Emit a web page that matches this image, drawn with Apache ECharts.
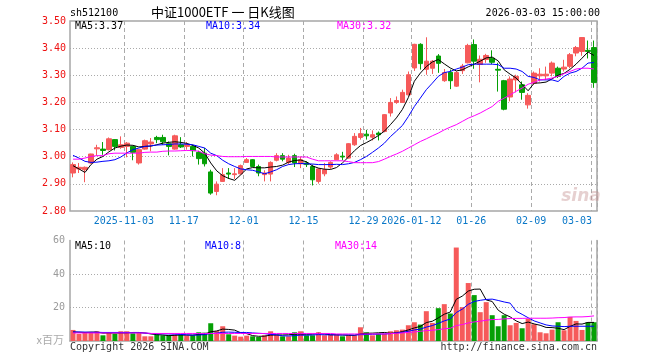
<!DOCTYPE html>
<html><head><meta charset="utf-8">
<script src="https://cdn.jsdelivr.net/npm/echarts@6/dist/echarts.min.js"></script>
<style>html,body{margin:0;padding:0;background:#fff}#c{width:660px;height:360px}</style>
</head><body><div id="c"></div>
<script>
const dates = [
'2025-10-21','2025-10-22','2025-10-23','2025-10-24','2025-10-27','2025-10-28','2025-10-29','2025-10-30','2025-10-31',
'2025-11-03','2025-11-04','2025-11-05','2025-11-06','2025-11-07','2025-11-10','2025-11-11','2025-11-12','2025-11-13','2025-11-14',
'2025-11-17','2025-11-18','2025-11-19','2025-11-20','2025-11-21','2025-11-24','2025-11-25','2025-11-26','2025-11-27','2025-11-28',
'2025-12-01','2025-12-02','2025-12-03','2025-12-04','2025-12-05','2025-12-08','2025-12-09','2025-12-10','2025-12-11','2025-12-12',
'2025-12-15','2025-12-16','2025-12-17','2025-12-18','2025-12-19','2025-12-22','2025-12-23','2025-12-24','2025-12-25','2025-12-26',
'2025-12-29','2025-12-30','2025-12-31','2026-01-05','2026-01-06','2026-01-07','2026-01-08','2026-01-09',
'2026-01-12','2026-01-13','2026-01-14','2026-01-15','2026-01-16','2026-01-19','2026-01-20','2026-01-21','2026-01-22','2026-01-23',
'2026-01-26','2026-01-27','2026-01-28','2026-01-29','2026-01-30','2026-02-02','2026-02-03','2026-02-04','2026-02-05','2026-02-06',
'2026-02-09','2026-02-10','2026-02-11','2026-02-12','2026-02-13','2026-02-24','2026-02-25','2026-02-26','2026-02-27',
'2026-03-02','2026-03-03'];

const opens = [
2.940,2.955,2.952,2.977,3.029,3.028,3.026,3.063,3.034,3.038,
3.038,2.977,3.028,3.047,3.071,3.071,3.048,3.028,3.044,3.038,
3.038,3.016,3.013,2.944,2.872,2.909,2.940,2.934,2.937,2.979,
2.989,2.964,2.934,2.936,2.987,3.004,2.979,3.004,2.974,2.977,
2.964,2.909,2.937,2.962,2.989,3.002,2.995,3.044,3.071,3.083,
3.072,3.087,3.093,3.161,3.200,3.200,3.228,3.327,3.414,3.322,
3.326,3.371,3.280,3.311,3.260,3.317,3.346,3.413,3.340,3.358,
3.363,3.322,3.280,3.220,3.283,3.265,3.191,3.271,3.298,3.298,
3.308,3.326,3.323,3.333,3.382,3.388,3.392,3.402];
const closes = [
2.971,2.961,2.961,3.010,3.033,3.023,3.066,3.038,3.044,3.050,
3.016,3.026,3.059,3.054,3.063,3.055,3.038,3.077,3.036,3.044,
3.022,2.993,2.974,2.866,2.899,2.934,2.936,2.937,2.967,2.989,
2.964,2.940,2.940,2.979,3.004,2.991,2.995,2.977,2.989,2.971,
2.915,2.955,2.952,2.979,3.007,2.999,3.048,3.075,3.085,3.077,
3.081,3.081,3.155,3.200,3.207,3.237,3.302,3.414,3.343,3.352,
3.352,3.344,3.310,3.280,3.310,3.334,3.410,3.352,3.359,3.373,
3.348,3.319,3.175,3.286,3.296,3.237,3.226,3.308,3.304,3.304,
3.345,3.296,3.330,3.376,3.402,3.439,3.388,3.273];
const lows = [
2.924,2.940,2.906,2.974,3.004,3.007,3.023,3.023,3.029,2.998,
2.987,2.971,3.026,3.020,3.050,3.044,3.005,3.026,3.032,3.026,
3.001,2.971,2.964,2.860,2.858,2.907,2.918,2.918,2.934,2.977,
2.962,2.928,2.909,2.909,2.983,2.983,2.971,2.962,2.958,2.962,
2.894,2.901,2.928,2.955,2.987,2.987,2.993,3.040,3.063,3.063,
3.060,3.060,3.090,3.148,3.195,3.198,3.226,3.316,3.321,3.302,
3.305,3.309,3.276,3.249,3.257,3.305,3.344,3.324,3.274,3.346,
3.341,3.240,3.171,3.204,3.237,3.210,3.177,3.265,3.277,3.283,
3.296,3.290,3.314,3.326,3.370,3.372,3.362,3.254];
const highs = [
2.979,2.977,2.964,3.011,3.044,3.054,3.071,3.065,3.075,3.054,
3.040,3.028,3.063,3.069,3.077,3.081,3.056,3.081,3.072,3.054,
3.044,3.022,3.032,2.952,2.909,2.958,2.958,2.958,2.971,2.995,
2.991,2.971,2.950,2.983,3.013,3.013,3.007,3.011,3.001,2.983,
2.971,2.958,2.977,2.983,3.013,3.018,3.050,3.087,3.106,3.099,
3.097,3.093,3.157,3.216,3.222,3.247,3.314,3.416,3.418,3.440,
3.356,3.378,3.323,3.321,3.315,3.342,3.416,3.432,3.373,3.379,
3.392,3.346,3.283,3.296,3.302,3.277,3.234,3.314,3.326,3.332,
3.351,3.332,3.357,3.382,3.408,3.440,3.428,3.428];

const ma5 = [
2.967,2.955,2.942,2.971,2.991,3.001,3.018,3.032,3.039,3.043,
3.042,3.036,3.038,3.039,3.044,3.050,3.053,3.055,3.053,3.049,
3.042,3.032,3.013,2.977,2.948,2.930,2.920,2.913,2.933,2.955,
2.960,2.959,2.959,2.962,2.964,2.969,2.980,2.986,2.988,2.981,
2.966,2.958,2.954,2.953,2.960,2.977,2.999,3.022,3.041,3.052,
3.064,3.078,3.094,3.118,3.143,3.174,3.218,3.278,3.308,3.332,
3.349,3.358,3.342,3.327,3.316,3.320,3.331,3.341,3.352,3.364,
3.367,3.353,3.320,3.304,3.290,3.266,3.243,3.271,3.272,3.275,
3.287,3.300,3.307,3.322,3.341,3.363,3.386,3.373];
const ma10 = [
3.005,2.995,2.983,2.979,2.980,2.983,2.985,2.989,2.999,3.014,
3.026,3.032,3.038,3.040,3.043,3.044,3.045,3.047,3.047,3.046,
3.044,3.038,3.032,3.013,3.004,2.987,2.974,2.964,2.955,2.952,
2.950,2.944,2.937,2.944,2.952,2.964,2.971,2.974,2.975,2.974,
2.973,2.971,2.971,2.971,2.972,2.971,2.974,2.979,2.989,3.001,
3.016,3.032,3.050,3.074,3.094,3.115,3.148,3.185,3.216,3.247,
3.271,3.296,3.310,3.314,3.323,3.330,3.339,3.341,3.341,3.341,
3.341,3.339,3.326,3.326,3.323,3.314,3.296,3.292,3.283,3.283,
3.283,3.277,3.296,3.308,3.314,3.326,3.345,3.347];
const ma30 = [
2.991,2.991,2.995,3.001,3.004,3.004,3.011,3.013,3.013,3.013,
3.013,3.013,3.016,3.017,3.017,3.020,3.021,3.021,3.022,3.023,
3.023,3.020,3.011,3.006,3.004,3.001,3.000,3.000,3.000,3.001,
3.001,3.001,3.001,3.001,2.999,2.999,2.999,2.999,2.999,2.999,
2.991,2.985,2.985,2.985,2.985,2.985,2.982,2.978,2.978,2.978,
2.978,2.982,2.991,3.001,3.010,3.020,3.032,3.044,3.056,3.066,
3.077,3.087,3.099,3.109,3.118,3.130,3.142,3.151,3.161,3.173,
3.185,3.204,3.216,3.228,3.241,3.253,3.267,3.274,3.283,3.286,
3.290,3.296,3.306,3.314,3.323,3.326,3.326,3.323];

const volumes = [
6.6,4.2,5.0,5.0,5.8,3.4,5.0,4.2,5.8,5.8,
4.6,5.0,2.8,2.8,3.8,3.4,3.4,3.8,3.8,3.2,
3.4,5.2,5.0,10.6,6.0,8.8,4.0,3.2,2.6,3.2,
2.8,2.4,3.4,5.8,3.8,2.8,2.8,5.2,5.8,3.4,
3.4,5.2,3.4,3.6,3.8,2.8,3.4,3.4,8.2,5.2,
3.4,4.4,4.4,5.8,6.4,6.8,9.4,11.2,9.8,17.8,
10.8,19.6,22.0,16.4,55.8,20.2,34.6,27.4,17.2,23.2,
15.4,8.8,15.4,9.4,10.8,7.6,13.2,10.0,5.2,4.6,
6.8,11.2,6.4,14.4,12.0,6.6,11.2,11.2];
const volMa5 = [
5.4,5.2,5.1,5.3,5.3,4.7,4.8,4.7,4.8,4.8,
5.1,5.1,4.8,4.2,3.8,3.6,3.2,3.4,3.6,3.5,
3.5,3.9,4.1,5.5,6.0,7.1,6.9,6.5,4.9,4.4,
3.2,2.8,2.9,3.5,3.6,3.6,3.7,4.1,4.1,4.0,
4.1,4.6,4.2,3.7,3.8,3.6,3.4,3.4,4.3,4.6,
4.7,4.9,5.1,4.6,4.9,5.6,6.6,7.8,8.7,11.0,
11.8,13.8,16.0,17.3,24.9,26.8,29.8,30.9,31.0,24.5,
23.6,18.4,16.0,14.4,12.0,10.4,11.3,10.2,9.4,8.1,
8.0,7.6,6.8,8.7,10.2,10.1,11.1,11.1];
const volMa10 = [
5.4,5.4,5.3,5.2,5.2,5.1,5.1,5.1,5.1,5.1,
4.9,5.0,4.7,4.5,4.3,4.3,4.2,4.1,3.9,3.7,
3.5,3.6,3.8,4.5,4.7,5.2,5.3,5.2,5.1,5.1,
4.8,4.6,4.4,3.9,3.7,3.1,3.0,3.2,3.5,3.5,
3.6,3.8,3.7,3.7,3.6,3.6,3.7,3.5,3.8,3.9,
4.0,4.1,4.2,4.4,4.8,5.2,5.8,6.6,7.1,8.3,
9.2,10.5,12.0,13.1,17.0,19.0,21.9,23.6,24.3,24.8,
25.0,24.2,23.3,22.6,17.8,15.9,13.9,12.0,10.8,9.6,
9.0,8.8,8.6,8.8,8.8,8.8,8.8,8.8];
const volMa30 = [
4.8,4.8,4.8,4.8,4.8,4.8,4.8,4.8,4.8,4.8,
4.8,4.8,4.8,4.5,4.5,4.5,4.5,4.5,4.5,4.5,
4.5,4.5,4.5,4.5,4.5,4.5,4.5,4.5,4.5,4.5,
4.5,4.5,4.5,4.5,4.5,4.5,4.5,4.5,4.5,4.5,
4.5,4.5,4.5,4.5,4.2,4.2,4.2,4.2,4.2,4.2,
4.2,4.2,4.2,4.4,4.6,4.8,5.1,5.4,5.8,6.2,
6.4,6.8,7.3,7.6,9.2,9.8,10.8,11.4,11.8,12.4,
12.8,12.9,13.2,13.4,13.5,13.5,13.6,13.6,13.6,13.6,
13.7,13.9,14.0,14.3,14.4,14.4,14.6,15.0];

const tickDates = ['2025-11-03','2025-11-17','2025-12-01','2025-12-15','2025-12-29','2026-01-12','2026-01-26','2026-02-09','2026-03-03'];
const tickTexts = ['2025-11-03','11-17','12-01','12-15','12-29','2026-01-12','01-26','02-09','03-03'];
const priceTicks = {min: 2.8, max: 3.5, interval: 0.1};
const volTicks = {min: 0, max: 60, interval: 20};

const header = {code: 'sh512100', title: '中证1000ETF 一 日K线图', time: '2026-03-03 15:00:00'};
const priceLegend = ['MA5:3.37', 'MA10:3.34', 'MA30:3.32'];
const volLegend = ['MA5:10', 'MA10:8', 'MA30:14'];

const UP = '#f65a5a', DOWN = '#05a005';
const MONO = '"DejaVu Sans Mono", "Liberation Mono", monospace';
const isTick = (i, v) => tickDates.indexOf(v) >= 0;
const splitV = {show: true, interval: isTick, lineStyle: {color: '#aaa', type: [4, 3], width: 1}};
const splitH = {show: true, showMinLine: false, showMaxLine: false, lineStyle: {color: '#aaa', type: [1, 2], width: 1}};

const chart = echarts.init(document.getElementById('c'), null, {renderer: 'canvas'});
const lineS = (name, data, color, xi, yi) => ({
  name, type: 'line', data, xAxisIndex: xi, yAxisIndex: yi, symbol: 'none', showSymbol: false,
  smooth: false, lineStyle: {color, width: 1}, itemStyle: {color}, z: 5, silent: true
});
const txt = (text, x, y, fill, align, font) => ({
  type: 'text', silent: true, z: 100,
  style: {text, x, y, fill, textAlign: align || 'left', align: align || 'left',
          textVerticalAlign: 'middle', verticalAlign: 'middle', font: font || ('10px ' + MONO)}
});

chart.setOption({
  animation: false,
  backgroundColor: '#fff',
  grid: [
    {left: 70, top: 21, width: 527, height: 190, show: true, borderColor: '#a6a6a6', borderWidth: 1.5, backgroundColor: 'transparent'},
    {left: 70, top: 240.5, width: 527, height: 100.5}
  ],
  xAxis: [
    {type: 'category', gridIndex: 0, data: dates, boundaryGap: true,
     axisLine: {show: false}, axisTick: {show: false},
     axisLabel: {interval: isTick, margin: 5,
       formatter: v => { const i = tickDates.indexOf(v); return (i === tickDates.length - 1 ? '{b|' : '{a|') + tickTexts[i] + '}'; },
       rich: {
         a: {color: '#0a78c8', fontFamily: MONO, fontSize: 10, padding: [0, 6, 0, 0]},
         b: {color: '#0a78c8', fontFamily: MONO, fontSize: 10, padding: [0, 34, 0, 0]}
       }},
     splitLine: splitV},
    {type: 'category', gridIndex: 1, data: dates, boundaryGap: true, position: 'top',
     axisLine: {show: true, lineStyle: {color: '#a6a6a6', width: 1.5}}, axisTick: {show: false},
     axisLabel: {show: false}, splitLine: splitV}
  ],
  yAxis: [
    {type: 'value', gridIndex: 0, min: priceTicks.min, max: priceTicks.max, interval: priceTicks.interval, scale: true,
     axisLine: {show: false}, axisTick: {show: false},
     axisLabel: {color: '#ee1111', fontFamily: MONO, fontSize: 10, margin: 4, formatter: v => v.toFixed(2)},
     splitLine: splitH},
    {type: 'value', gridIndex: 1, min: volTicks.min, max: volTicks.max, interval: volTicks.interval,
     axisLine: {show: true, lineStyle: {color: '#a6a6a6', width: 1.5}}, axisTick: {show: false},
     axisLabel: {color: '#9a9a9a', fontFamily: MONO, fontSize: 10, margin: 5, formatter: v => v === 0 ? '' : String(v)},
     splitLine: splitH},
    {type: 'value', gridIndex: 1, position: 'right', min: volTicks.min, max: volTicks.max, interval: volTicks.interval,
     axisLine: {show: true, lineStyle: {color: '#a6a6a6', width: 1.5}}, axisTick: {show: false},
     axisLabel: {show: false}, splitLine: {show: false}}
  ],
  series: [
    {type: 'candlestick', xAxisIndex: 0, yAxisIndex: 0, barWidth: 5, silent: true, z: 3,
     data: dates.map((d, i) => [opens[i], closes[i], lows[i], highs[i]]),
     itemStyle: {color: UP, color0: DOWN, borderColor: UP, borderColor0: DOWN, borderWidth: 1}},
    lineS('MA5', ma5, '#000000', 0, 0),
    lineS('MA10', ma10, '#0000ff', 0, 0),
    lineS('MA30', ma30, '#ff00ff', 0, 0),
    {type: 'bar', xAxisIndex: 1, yAxisIndex: 1, barWidth: 5, silent: true, z: 3,
     data: volumes.map((v, i) => ({value: v, itemStyle: {color: closes[i] >= opens[i] ? UP : DOWN}}))},
    lineS('VMA5', volMa5, '#000000', 1, 1),
    lineS('VMA10', volMa10, '#0000ff', 1, 1),
    lineS('VMA30', volMa30, '#ff00ff', 1, 1)
  ],
  graphic: [
    txt(header.code, 70, 13, '#000'),
    txt(header.title, 151, 12.5, '#000', 'left', '13px "Noto Sans CJK SC", sans-serif'),
    txt(header.time, 600, 13, '#000', 'right'),
    txt(priceLegend[0], 75, 26.5, '#000000'),
    txt(priceLegend[1], 206, 26.5, '#0000ff'),
    txt(priceLegend[2], 337, 26.5, '#ff00ff'),
    txt(volLegend[0], 75, 246, '#000000'),
    txt(volLegend[1], 205, 246, '#0000ff'),
    txt(volLegend[2], 335, 246, '#ff00ff'),
    txt('x百万', 64, 340, '#aaaaaa', 'right', '11px "Noto Sans CJK SC", sans-serif'),
    txt('Copyright 2026 SINA.COM', 70, 347, '#333333'),
    txt('http://finance.sina.com.cn', 597, 347, '#333333', 'right'),
    txt('sina', 581, 197, 'rgba(200,150,150,0.45)', 'center', 'italic bold 17px "DejaVu Sans", sans-serif')
  ]
});
</script></body></html>
